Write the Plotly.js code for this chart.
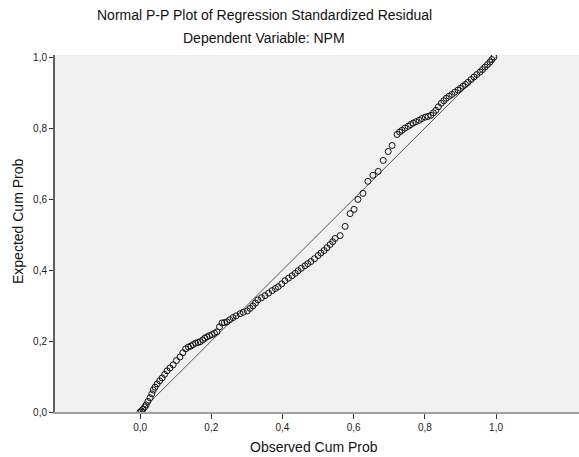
<!DOCTYPE html>
<html>
<head>
<meta charset="utf-8">
<script src="https://cdn.plot.ly/plotly-3.0.1.min.js"></script>
<style>html,body{margin:0;padding:0;background:#fff;}#chart{width:579px;height:457px;}</style>
</head>
<body>
<div id="chart"></div>
<script>
// Observed cumulative probability (x) and expected cumulative probability (y)
const observedCumProb = [
  0.000, 0.004, 0.008, 0.013, 0.017, 0.022, 0.028, 0.033, 0.037, 0.042,
  0.048, 0.055, 0.062, 0.069, 0.076, 0.084, 0.093, 0.102, 0.112, 0.120,
  0.128, 0.136, 0.143, 0.149, 0.156, 0.163, 0.169, 0.176, 0.182, 0.188,
  0.195, 0.202, 0.209, 0.216, 0.223, 0.230, 0.237, 0.244, 0.252, 0.261,
  0.270, 0.281, 0.290, 0.301, 0.309, 0.317, 0.324, 0.331, 0.341, 0.351,
  0.361, 0.371, 0.380, 0.388, 0.398, 0.407, 0.417, 0.427, 0.436, 0.444,
  0.453, 0.463, 0.471, 0.480, 0.490, 0.500, 0.508, 0.517, 0.525, 0.534,
  0.541, 0.548, 0.562, 0.576, 0.590, 0.601, 0.612, 0.626, 0.640, 0.654,
  0.669, 0.683, 0.697, 0.708, 0.722, 0.729, 0.736, 0.744, 0.753, 0.760,
  0.767, 0.775, 0.784, 0.792, 0.801, 0.809, 0.817, 0.824, 0.831, 0.838,
  0.846, 0.853, 0.860, 0.868, 0.876, 0.884, 0.893, 0.900, 0.907, 0.914,
  0.921, 0.930, 0.938, 0.946, 0.955, 0.962, 0.969, 0.976, 0.983, 0.988,
  0.994
];
const expectedCumProb = [
  0.000, 0.003, 0.008, 0.014, 0.020, 0.030, 0.040, 0.051, 0.062, 0.070,
  0.079, 0.088, 0.096, 0.106, 0.116, 0.124, 0.133, 0.145, 0.155, 0.167,
  0.178, 0.183, 0.186, 0.190, 0.194, 0.196, 0.198, 0.203, 0.208, 0.212,
  0.215, 0.218, 0.222, 0.226, 0.240, 0.251, 0.252, 0.254, 0.260, 0.266,
  0.271, 0.277, 0.281, 0.285, 0.292, 0.299, 0.307, 0.316, 0.322, 0.328,
  0.335, 0.342, 0.348, 0.353, 0.361, 0.370, 0.377, 0.384, 0.391, 0.398,
  0.405, 0.412, 0.418, 0.424, 0.432, 0.441, 0.448, 0.455, 0.463, 0.472,
  0.480, 0.489, 0.497, 0.523, 0.559, 0.571, 0.599, 0.616, 0.650, 0.667,
  0.678, 0.709, 0.734, 0.751, 0.782, 0.789, 0.794, 0.800, 0.805, 0.810,
  0.814, 0.818, 0.822, 0.827, 0.831, 0.833, 0.836, 0.843, 0.850, 0.860,
  0.870, 0.877, 0.884, 0.890, 0.895, 0.901, 0.907, 0.912, 0.918, 0.923,
  0.929, 0.937, 0.944, 0.951, 0.958, 0.965, 0.972, 0.979, 0.986, 0.993,
  1.000
];
const refLineX = [0, 1];
const refLineY = [0, 1];
const tickVals = [0, 0.2, 0.4, 0.6, 0.8, 1.0];

const titleLine1 = 'Normal P-P Plot of Regression Standardized Residual';
const titleLine2 = 'Dependent Variable: NPM';
const xTitle = 'Observed Cum Prob';
const yTitle = 'Expected Cum Prob';

const font = 'Liberation Sans, Arial, sans-serif';

const traces = [
  {
    x: refLineX, y: refLineY, mode: 'lines', type: 'scatter',
    line: {color: '#555555', width: 1}, hoverinfo: 'skip', showlegend: false
  },
  {
    x: observedCumProb, y: expectedCumProb, mode: 'markers', type: 'scatter',
    marker: {symbol: 'circle-open', size: 6, color: '#111111', line: {width: 1, color: '#111111'}},
    showlegend: false
  }
];

const L = 55, R = 0, T = 55, B = 45, W = 579, H = 457;
const pw = W - L - R;
const ph = H - T - B;

const layout = {
  width: W, height: H,
  margin: {l: L, r: R, t: T, b: B, pad: 0},
  paper_bgcolor: '#ffffff',
  plot_bgcolor: '#f0f0f0',
  separators: ',.',
  showlegend: false,
  font: {family: font, color: '#111111', size: 10},
  xaxis: {
    range: [-0.239, 1.233], tickvals: tickVals, tickformat: '.1f',
    showgrid: false, zeroline: false, showline: true, linecolor: '#a0a0a0', linewidth: 2,
    ticks: 'outside', ticklen: 5, tickwidth: 1, tickcolor: '#333333',
    tickfont: {family: font, size: 10, color: '#222222'}, mirror: false
  },
  yaxis: {
    range: [0, 1.006], tickvals: tickVals, tickformat: '.1f',
    showgrid: false, zeroline: false, showline: true, linecolor: '#606060', linewidth: 2,
    ticks: 'outside', ticklen: 4, tickwidth: 1, tickcolor: '#333333',
    tickfont: {family: font, size: 10, color: '#222222'}
  },
  annotations: [
    {text: titleLine1, xref: 'paper', yref: 'paper', x: (264 - L) / pw, y: (H - B - 15) / ph,
     xanchor: 'center', yanchor: 'middle', showarrow: false, font: {family: font, size: 14, color: '#111111'}},
    {text: titleLine2, xref: 'paper', yref: 'paper', x: (264 - L) / pw, y: (H - B - 38) / ph,
     xanchor: 'center', yanchor: 'middle', showarrow: false, font: {family: font, size: 14, color: '#111111'}},
    {text: xTitle, xref: 'paper', yref: 'paper', x: (314 - L) / pw, y: (H - B - 447) / ph,
     xanchor: 'center', yanchor: 'middle', showarrow: false, font: {family: font, size: 14, color: '#111111'}},
    {text: yTitle, xref: 'paper', yref: 'paper', x: (18 - L) / pw, y: (H - B - 222) / ph,
     xanchor: 'center', yanchor: 'middle', textangle: -90, showarrow: false, font: {family: font, size: 14, color: '#111111'}}
  ]
};

Plotly.newPlot('chart', traces, layout, {staticPlot: true, displayModeBar: false});
</script>
</body>
</html>
